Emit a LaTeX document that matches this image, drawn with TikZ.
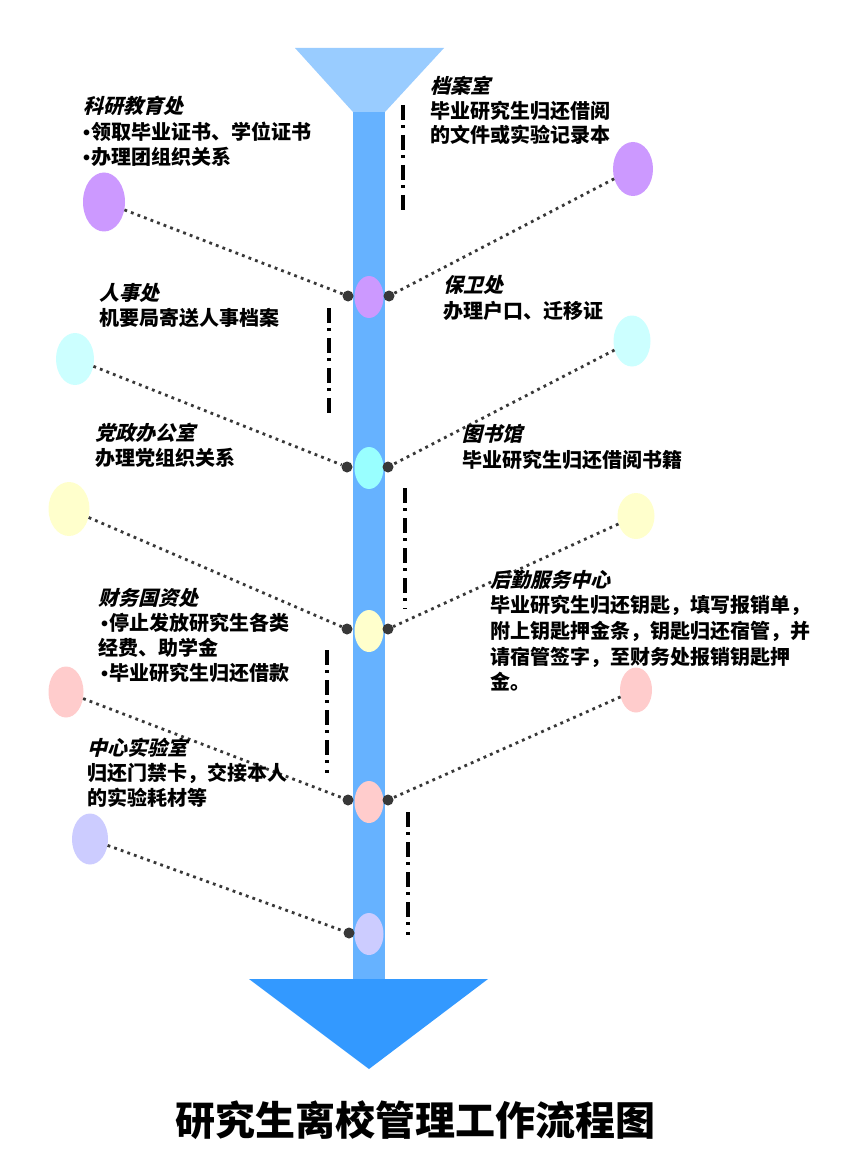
\documentclass[tikz,border=0pt]{standalone}
\usepackage{fontspec}
\usetikzlibrary{shapes.geometric}
\newfontfamily\cjk{Noto Sans CJK SC}
\newfontfamily\cjkit{Noto Sans CJK SC}[BoldFeatures={FakeSlant=0.25}]
\newfontfamily\bulfont{Liberation Sans}
\newcommand{\bul}{{\bulfont\bfseries •}\hspace{1pt}}
\definecolor{topc}{HTML}{99CCFF}
\definecolor{barc}{HTML}{66B2FF}
\definecolor{arrc}{HTML}{3399FF}
\definecolor{dotc}{HTML}{383838}
\definecolor{purp}{HTML}{CC99FF}
\definecolor{cyanC}{HTML}{99FFFF}
\definecolor{cyanL}{HTML}{CCFFFF}
\definecolor{yel}{HTML}{FFFFCC}
\definecolor{pnk}{HTML}{FFCCCC}
\definecolor{lav}{HTML}{CCCCFF}
\tikzset{
  lbl/.style={anchor=west, inner sep=0pt, text=black, font=\cjk\bfseries\fontsize{20}{24}\selectfont},
  ttl/.style={anchor=west, inner sep=0pt, text=black, font=\cjkit\bfseries\fontsize{20}{24}\selectfont},
  cdot/.style={circle, fill=dotc, draw=none, inner sep=0pt, minimum size=11pt},
  conn/.style={draw=dotc, line width=2.8pt, dash pattern=on 2.8pt off 4.2pt},
  ddline/.style={draw=black, line width=3.5pt, dash pattern=on 15pt off 5pt on 3pt off 7pt},
  ell/.style={ellipse, inner sep=0pt, draw=none},
  cell/.style={ell, minimum width=29pt, minimum height=42pt},
}
\begin{document}
\begin{tikzpicture}[x=1pt, y=-1pt]
\useasboundingbox (0,0) rectangle (852,1174);
\fill[white] (0,0) rectangle (852,1174);
% spine
\fill[topc] (295,48) -- (444,48) -- (385,112) -- (353,112) -- cycle;
\fill[barc] (353,112) rectangle (385,980);
\fill[arrc] (249,979) -- (488,979) -- (369,1069) -- cycle;
% central ellipses
\node[cell, fill=purp]  (c1) at (369,297) {};
\node[cell, fill=cyanC] (c2) at (369,468) {};
\node[cell, fill=yel]   (c3) at (369,631) {};
\node[cell, fill=pnk]   (c4) at (369,802) {};
\node[cell, fill=lav]   (c5) at (369,934) {};
% outer ellipses
\node[ell, fill=purp,  minimum width=42pt, minimum height=59pt] (o1) at (104,202) {};
\node[ell, fill=purp,  minimum width=40pt, minimum height=54pt] (o2) at (633,169) {};
\node[ell, fill=cyanL, minimum width=38pt, minimum height=52pt] (o3) at (75,359) {};
\node[ell, fill=cyanL, minimum width=37pt, minimum height=51pt] (o4) at (632,341) {};
\node[ell, fill=yel,   minimum width=41pt, minimum height=54pt] (o5) at (69,509) {};
\node[ell, fill=yel,   minimum width=37pt, minimum height=46pt] (o6) at (636,516) {};
\node[ell, fill=pnk,   minimum width=35pt, minimum height=51pt] (o7) at (66,692) {};
\node[ell, fill=pnk,   minimum width=32pt, minimum height=45pt] (o8) at (636,690) {};
\node[ell, fill=lav,   minimum width=36pt, minimum height=51pt] (o9) at (90,839) {};
% dots
\node[cdot] (dl1) at (348,296) {};
\node[cdot] (dr1) at (389,296) {};
\node[cdot] (dl2) at (347,467) {};
\node[cdot] (dr2) at (388,467) {};
\node[cdot] (dl3) at (347,629) {};
\node[cdot] (dr3) at (388,629) {};
\node[cdot] (dl4) at (348,800) {};
\node[cdot] (dr4) at (388,800) {};
\node[cdot] (dl5) at (349,933) {};
% connectors
\draw[conn] (o1) -- (dl1);
\draw[conn] (o2) -- (dr1);
\draw[conn] (o3) -- (dl2);
\draw[conn] (o4) -- (dr2);
\draw[conn] (o5) -- (dl3);
\draw[conn] (o6) -- (dr3);
\draw[conn] (o7) -- (dl4);
\draw[conn] (o8) -- (dr4);
\draw[conn] (o9) -- (dl5);
% dash-dot lines
\coordinate (a1) at (403,105); \coordinate (b1) at (403,210);
\coordinate (a2) at (329,308); \coordinate (b2) at (329,413);
\coordinate (a3) at (405,488); \coordinate (b3) at (405,609);
\coordinate (a4) at (327,650); \coordinate (b4) at (327,773);
\coordinate (a5) at (408,812); \coordinate (b5) at (408,935);
\draw[ddline] (a1) -- (b1);
\draw[ddline] (a2) -- (b2);
\draw[ddline] (a3) -- (b3);
\draw[ddline] (a4) -- (b4);
\draw[ddline] (a5) -- (b5);
% texts
\node[ttl] (t1) at (83,106) {科研教育处};
\node[lbl] (t1a) at (83,132) {\bul 领取毕业证书、学位证书};
\node[lbl] (t1b) at (83,157) {\bul 办理团组织关系};
\node[ttl] (t2) at (430,86) {档案室};
\node[lbl] (t2a) at (430,111) {毕业研究生归还借阅};
\node[lbl] (t2b) at (430,135) {的文件或实验记录本};
\node[ttl] (t3) at (99,293) {人事处};
\node[lbl] (t3a) at (99,318) {机要局寄送人事档案};
\node[ttl] (t4) at (443,285) {保卫处};
\node[lbl] (t4a) at (443,311) {办理户口、迁移证};
\node[ttl] (t5) at (95,433) {党政办公室};
\node[lbl] (t5a) at (95,458) {办理党组织关系};
\node[ttl] (t6) at (462,434) {图书馆};
\node[lbl] (t6a) at (462,460) {毕业研究生归还借阅书籍};
\node[ttl] (t7) at (98,598) {财务国资处};
\node[lbl] (t7a) at (101,623) {\bul 停止发放研究生各类};
\node[lbl] (t7b) at (98,648) {经费、助学金};
\node[lbl] (t7c) at (101,673) {\bul 毕业研究生归还借款};
\node[ttl] (t8) at (490,580) {后勤服务中心};
\node[lbl] (t8a) at (490,605) {毕业研究生归还钥匙，填写报销单，};
\node[lbl] (t8b) at (490,631) {附上钥匙押金条，钥匙归还宿管，并};
\node[lbl] (t8c) at (490,657) {请宿管签字，至财务处报销钥匙押};
\node[lbl] (t8d) at (490,682) {金。};
\node[ttl] (t9) at (87,748) {中心实验室};
\node[lbl] (t9a) at (87,773) {归还门禁卡，交接本人};
\node[lbl] (t9b) at (87,798) {的实验耗材等};
\node[inner sep=0pt, text=black, font=\cjk\bfseries\fontsize{40}{48}\selectfont] (title) at (415,1120) {研究生离校管理工作流程图};
\end{tikzpicture}
\end{document}
